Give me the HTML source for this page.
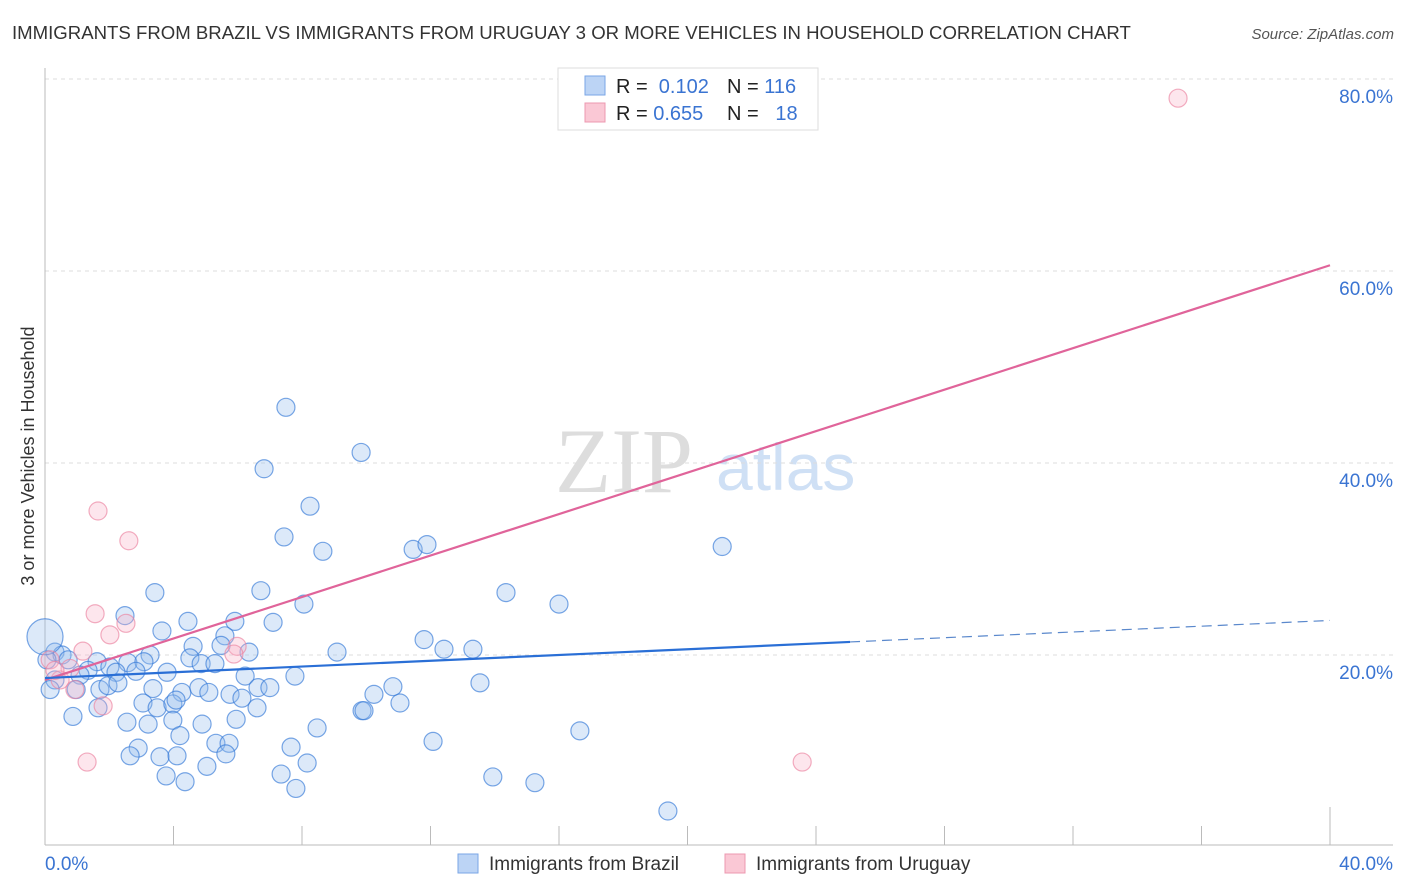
<!DOCTYPE html>
<html><head><meta charset="utf-8"><style>
body{margin:0;background:#fff;font-family:"Liberation Sans",sans-serif;}
#c{position:absolute;left:0;top:0;}
</style></head><body>
<svg id="c" width="1406" height="892" xmlns="http://www.w3.org/2000/svg">
<text x="12" y="39" font-size="18.6" fill="#333">IMMIGRANTS FROM BRAZIL VS IMMIGRANTS FROM URUGUAY 3 OR MORE VEHICLES IN HOUSEHOLD CORRELATION CHART</text>
<text x="1394" y="39" font-size="15" fill="#555" font-style="italic" text-anchor="end">Source: ZipAtlas.com</text>
<text x="34" y="456" font-size="18" fill="#333" text-anchor="middle" transform="rotate(-90 34 456)">3 or more Vehicles in Household</text>
<text x="555" y="492" font-size="92" fill="#ddd" font-family="Liberation Serif,serif">ZIP</text>
<text x="716" y="490" font-size="66" fill="#cfe0f5">atlas</text>
<g id="grid"></g><g id="axes"></g><g id="pts"></g><g id="lines"></g>
<g>
<rect x="558" y="68" width="260" height="62" fill="#fff" stroke="#ddd"/>
<rect x="585" y="76" width="20" height="19" fill="#bcd4f5" stroke="#7aa6e6"/>
<rect x="585" y="103" width="20" height="19" fill="#fac8d5" stroke="#ec98b0"/>
<text x="616" y="93" font-size="20" fill="#222">R = <tspan fill="#3a74d2">&#160;0.102</tspan></text>
<text x="727" y="93" font-size="20" fill="#222">N = <tspan fill="#3a74d2">116</tspan></text>
<text x="616" y="120" font-size="20" fill="#222">R = <tspan fill="#3a74d2">0.655</tspan></text>
<text x="727" y="120" font-size="20" fill="#222">N = <tspan fill="#3a74d2">&#160;&#160;18</tspan></text>
</g>
<g>
<rect x="458" y="854" width="20" height="19" fill="#bcd4f5" stroke="#7aa6e6"/>
<text x="489" y="870" font-size="19" fill="#333">Immigrants from Brazil</text>
<rect x="725" y="854" width="20" height="19" fill="#fac8d5" stroke="#ec98b0"/>
<text x="756" y="870" font-size="19" fill="#333">Immigrants from Uruguay</text>
</g>
</svg>
<script>
const yTicks=[20,40,60,80];
const xTickLabels=["0.0%","40.0%"];
const brazilX=[7.50,9.84,6.82,8.25,7.44,8.65,11.46,11.89,21.08,14.35,16.0,3.42,6.72,8.06,2.49,4.45,5.91,7.10,3.64,5.60,11.8,12.42,13.32,4.61,5.48,6.35,9.09,3.27,4.51,0.31,0.53,0.72,1.62,2.02,2.58,3.08,2.21,2.83,3.80,4.86,5.29,6.23,7.78,13.54,1.34,1.09,0.31,0.97,1.71,1.96,2.27,3.36,4.26,4.79,5.10,5.76,6.13,6.63,7.0,10.24,10.83,11.05,9.87,9.93,3.05,3.49,3.98,4.08,1.65,6.60,0.87,2.55,3.21,3.98,4.89,5.95,8.47,4.20,5.32,5.73,12.08,16.65,2.90,2.65,3.58,4.11,5.04,5.63,7.66,8.16,3.77,4.36,7.35,7.81,13.94,15.25,19.39,0.16,0.06,0.0];
const brazilY=[45.8,41.1,39.4,35.5,32.3,30.8,31.0,31.5,31.3,26.5,25.3,26.5,26.7,25.3,24.1,23.5,23.5,23.4,22.5,22.0,21.6,20.6,20.6,20.9,21.0,20.3,20.3,20.0,19.7,20.3,20.0,19.5,19.3,18.75,19.2,19.3,18.2,18.3,18.2,19.1,19.1,17.8,17.8,17.1,18.4,17.9,17.4,16.4,16.4,16.8,17.1,16.5,16.1,16.6,16.1,15.9,15.5,16.6,16.6,15.9,16.7,15.0,14.2,14.2,15.0,14.5,14.9,15.3,14.5,14.5,13.6,13.0,12.8,13.2,12.8,13.3,12.4,11.6,10.8,10.8,11.0,12.1,10.3,9.5,9.4,9.5,8.4,9.7,10.4,8.75,7.4,6.8,7.6,6.1,7.3,6.7,3.75,16.4,19.5,21.9];
const uruguayX=[35.27,1.65,2.61,1.56,2.52,2.02,5.98,5.88,1.18,0.16,0.47,0.93,1.81,1.31,23.57,0.78,0.31];
const uruguayY=[78.0,35.0,31.9,24.3,23.3,22.1,20.9,20.1,20.4,19.5,17.4,16.4,14.7,8.85,8.85,18.6,18.4];
const brazilTrend=[17.6,23.6]; const brazilSolidEnd=25.06;
const uruguayTrend=[17.4,60.6];
const NS="http://www.w3.org/2000/svg";
const X=v=>45+v*1285/40, Y=v=>847-v*9.6;
function mk(t,a,p){const e=document.createElementNS(NS,t);for(const k in a)e.setAttribute(k,a[k]);p.appendChild(e);return e;}
const grid=document.getElementById('grid'),axes=document.getElementById('axes'),pts=document.getElementById('pts'),lines=document.getElementById('lines');
yTicks.forEach(t=>{
 const l=mk('line',{x1:45,x2:1393,y1:Y(t),y2:Y(t),stroke:'#ddd','stroke-dasharray':'4 4'},grid);
 
 
 const tx=mk('text',{x:1393,y:Y(t)+24,'font-size':19,fill:'#3a74d2','text-anchor':'end'},grid);
 tx.textContent=t.toFixed(1)+'%';
 
 
});
mk('line',{x1:45,x2:45,y1:68,y2:845,stroke:'#bbb'},axes);
mk('line',{x1:45,x2:1393,y1:845,y2:845,stroke:'#bbb'},axes);
for(let i=1;i<=10;i++){const x=X(i*4);mk('line',{x1:x,x2:x,y1:i==10?807:826,y2:845,stroke:'#bbb'},axes);}
const xl0=mk('text',{x:45,y:870,'font-size':19,fill:'#3a74d2'},axes);xl0.textContent=xTickLabels[0];


const xl1=mk('text',{x:1393,y:870,'font-size':19,fill:'#3a74d2','text-anchor':'end'},axes);xl1.textContent=xTickLabels[1];


brazilX.forEach((v,i)=>{
 const big=i==brazilX.length-1;
 const c=mk('circle',{cx:X(v),cy:Y(brazilY[i]),r:big?18:9,fill:'rgba(150,188,238,0.33)',stroke:'rgba(50,120,215,0.65)','stroke-width':1.2},pts);
 
 
});
uruguayX.forEach((v,i)=>{
 const c=mk('circle',{cx:X(v),cy:Y(uruguayY[i]),r:9,fill:'rgba(248,178,198,0.32)',stroke:'rgba(235,130,160,0.65)','stroke-width':1.2},pts);
 
 
});
const by=x=>brazilTrend[0]+(brazilTrend[1]-brazilTrend[0])*x/40;
const l1=mk('line',{x1:X(0),y1:Y(uruguayTrend[0]),x2:X(40),y2:Y(uruguayTrend[1]),stroke:'#e0649a','stroke-width':2.2},lines);


const l2=mk('line',{x1:X(0),y1:Y(by(0)),x2:X(brazilSolidEnd),y2:Y(by(brazilSolidEnd)),stroke:'#2a6fd6','stroke-width':2.2},lines);


const l3=mk('line',{x1:X(brazilSolidEnd),y1:Y(by(brazilSolidEnd)),x2:X(40),y2:Y(by(40)),stroke:'#5a88cc','stroke-width':1.2,'stroke-dasharray':'10 6'},lines);


</script>
</body></html>
